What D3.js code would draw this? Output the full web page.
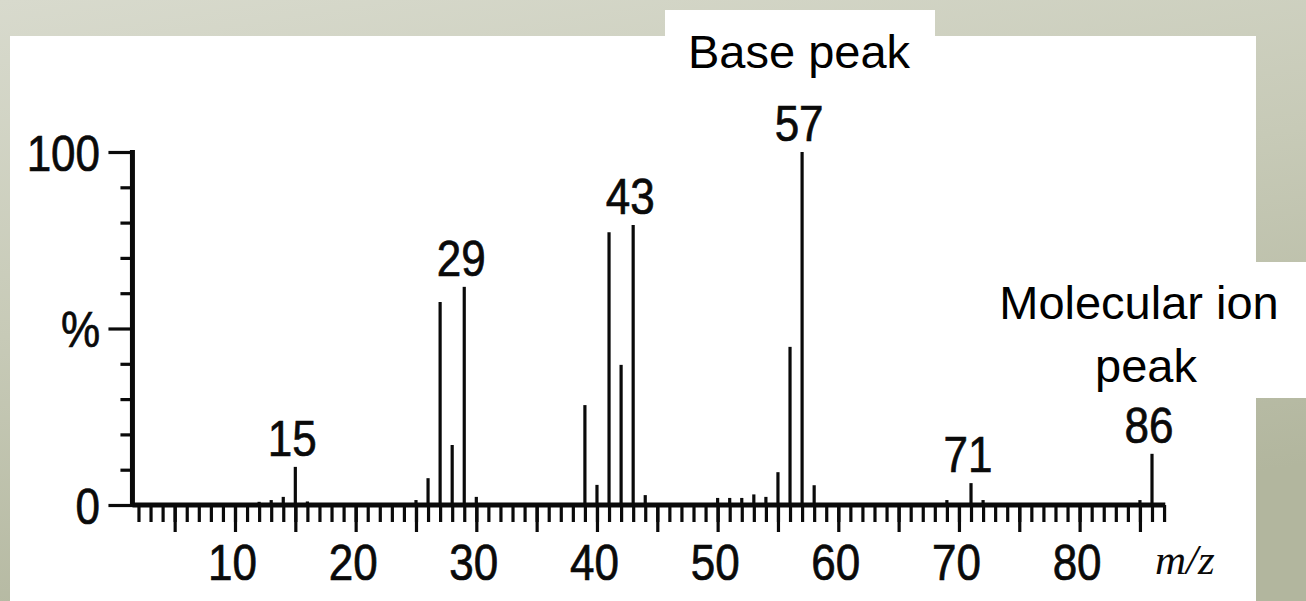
<!DOCTYPE html>
<html>
<head>
<meta charset="utf-8">
<script src="https://cdn.jsdelivr.net/npm/d3@7"></script>
<style>
  html, body { margin: 0; padding: 0; background: #fff; }
  svg { display: block; }
</style>
</head>
<body>
<svg id="chart" width="1306" height="601"></svg>
<script>
// ---- data ----
const mz = [12, 13, 14, 15, 16, 25, 26, 27, 28, 29, 30, 39, 40, 41, 42, 43, 44, 50, 51, 52, 53, 54, 55, 56, 57, 58, 69, 71, 72, 85, 86];
const intensity = [0.9, 1.4, 2.3, 10.8, 1.0, 1.4, 7.6, 57.5, 17, 61.8, 2.3, 28.3, 5.7, 77.3, 39.7, 79.3, 2.8, 2, 2, 2, 3, 2.3, 9.3, 44.8, 100, 5.6, 1.4, 6.2, 1.4, 1.4, 14.5];
const labeledPeaks = [15, 29, 43, 57, 71, 86];
const xTickLabels = [10, 20, 30, 40, 50, 60, 70, 80];
const yMajorTicks = [0, 50, 100];
const yMajorLabels = ["0", "%", "100"];
const yMinorTicks = [10, 20, 30, 40, 60, 70, 80, 90];
const xRange = [1.5, 87.1];
const annotations = ["Base peak", "Molecular ion", "peak"];
const xAxisTitle = "m/z";

// ---- drawing ----
const svg = d3.select("#chart");
const defs = svg.append("defs");
const grad = defs.append("linearGradient").attr("id", "bg")
  .attr("x1", 0).attr("y1", 0).attr("x2", 0.35).attr("y2", 1);
grad.append("stop").attr("offset", 0).attr("stop-color", "#d8dacd");
grad.append("stop").attr("offset", 0.5).attr("stop-color", "#c7cab7");
grad.append("stop").attr("offset", 1).attr("stop-color", "#b2b69e");

svg.append("rect").attr("width", 1306).attr("height", 601).attr("fill", "url(#bg)");
// white panels
svg.append("rect").attr("x", 10).attr("y", 36).attr("width", 1246).attr("height", 565).attr("fill", "#fff");
svg.append("rect").attr("x", 665).attr("y", 10).attr("width", 270).attr("height", 30).attr("fill", "#fff");
svg.append("rect").attr("x", 1200).attr("y", 262).attr("width", 106).attr("height", 136).attr("fill", "#fff");

const x = d3.scaleLinear().domain([10, 86]).range([235, 1152]);
const y = d3.scaleLinear().domain([0, 100]).range([505, 152]);

const ink = "#0a0a0a";
const digitFont = "'Liberation Sans', Arial, Helvetica, sans-serif";

// peaks
svg.append("g").selectAll("line").data(mz).join("line")
  .attr("x1", d => x(d)).attr("x2", d => x(d))
  .attr("y1", y(0)).attr("y2", (d, i) => y(intensity[i]))
  .attr("stroke", ink).attr("stroke-width", 3.2);

// x axis: minor ticks
const minorVals = d3.range(2, 88);
const gxMinor = svg.append("g").attr("transform", `translate(0,${y(0)})`)
  .call(d3.axisBottom(x).tickValues(minorVals).tickSize(17).tickSizeOuter(0).tickFormat(""));
const majorVals = d3.range(5, 90, 5);
const gxMajor = svg.append("g").attr("transform", `translate(0,${y(0)})`)
  .call(d3.axisBottom(x).tickValues(majorVals).tickSize(27).tickSizeOuter(0)
    .tickFormat(d => xTickLabels.includes(d) ? String(d) : "").tickPadding(12));
[gxMinor, gxMajor].forEach(g => {
  g.select(".domain").remove();
  g.selectAll(".tick line").attr("stroke", ink).attr("stroke-width", 3.2);
});
gxMajor.selectAll(".tick text")
  .attr("fill", ink).attr("stroke", ink).attr("stroke-width", 0.7)
  .attr("font-family", digitFont).attr("font-size", 50)
  .attr("dy", "0.71em").attr("y", 40)
  .attr("transform", "translate(-3,0) scale(0.88,1)");

// y axis ticks
const gyMinor = svg.append("g").attr("transform", `translate(${x(xRange[0])},0)`)
  .call(d3.axisLeft(y).tickValues(yMinorTicks).tickSize(12).tickSizeOuter(0).tickFormat(""));
const gyMajor = svg.append("g").attr("transform", `translate(${x(xRange[0])},0)`)
  .call(d3.axisLeft(y).tickValues(yMajorTicks).tickSize(24).tickSizeOuter(0)
    .tickFormat((d, i) => yMajorLabels[yMajorTicks.indexOf(d)]).tickPadding(6));
[gyMinor, gyMajor].forEach(g => {
  g.select(".domain").remove();
  g.selectAll(".tick line").attr("stroke", ink).attr("stroke-width", 3.2);
});
gyMajor.selectAll(".tick text")
  .attr("fill", ink).attr("stroke", ink).attr("stroke-width", 0.7)
  .attr("font-family", digitFont).attr("font-size", 50)
  .attr("dy", "0.36em")
  .attr("transform", "translate(-6,0) scale(0.88,1)");

// axis lines
svg.append("line").attr("x1", x(xRange[0])).attr("x2", x(xRange[1]))
  .attr("y1", y(0)).attr("y2", y(0)).attr("stroke", ink).attr("stroke-width", 5);
svg.append("line").attr("x1", x(xRange[0])).attr("x2", x(xRange[0]))
  .attr("y1", y(0) + 2).attr("y2", y(100) - 2).attr("stroke", ink).attr("stroke-width", 5);

// peak labels
svg.append("g").selectAll("text").data(labeledPeaks).join("text")
  .attr("transform", d => `translate(${x(d) - 3},${y(intensity[mz.indexOf(d)]) - 11}) scale(0.88,1)`)
  .attr("text-anchor", "middle")
  .attr("font-family", digitFont).attr("font-size", 50)
  .attr("fill", ink).attr("stroke", ink).attr("stroke-width", 0.7)
  .text(d => d);

// m/z title
svg.append("text").attr("x", 1155).attr("y", 574)
  .attr("font-family", "'Liberation Serif', 'Times New Roman', serif")
  .attr("font-style", "italic").attr("font-size", 43).attr("fill", ink)
  .text(xAxisTitle);

// annotations
const annFont = "'Liberation Sans', Arial, Helvetica, sans-serif";
svg.append("text").attr("x", 688).attr("y", 68)
  .attr("font-family", annFont).attr("font-size", 47).attr("fill", "#000")
  .text(annotations[0]);
svg.append("text").attr("x", 1139).attr("y", 319).attr("text-anchor", "middle")
  .attr("font-family", annFont).attr("font-size", 47).attr("fill", "#000")
  .text(annotations[1]);
svg.append("text").attr("x", 1146).attr("y", 382).attr("text-anchor", "middle")
  .attr("font-family", annFont).attr("font-size", 47).attr("fill", "#000")
  .text(annotations[2]);
</script>
</body>
</html>
